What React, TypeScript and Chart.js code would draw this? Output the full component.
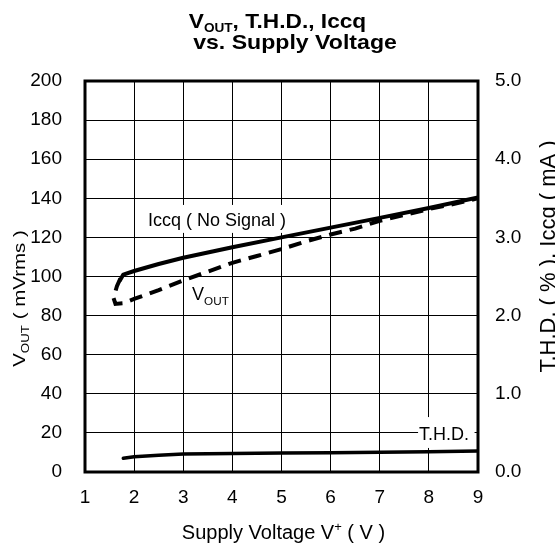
import React, { useEffect, useRef } from "react";
import { Chart, registerables } from "chart.js";

Chart.register(...registerables);

// ---------- data ----------
const xTickValues = [1, 2, 3, 4, 5, 6, 7, 8, 9];
const leftTickValues = [0, 20, 40, 60, 80, 100, 120, 140, 160, 180, 200];
const rightTickLabels = ["0.0", "1.0", "2.0", "3.0", "4.0", "5.0"];

// V_OUT (mVrms), left axis
const voutX = [1.72, 1.65, 1.58, 1.62, 1.78, 2.0, 2.5, 3.0, 3.5, 4.0, 4.5, 5.0, 5.5, 6.0, 6.5, 7.0, 7.5, 8.0, 8.5, 9.0];
const voutY = [99, 95, 89, 86, 86.3, 88.5, 93, 98, 102.5, 107, 110.5, 114, 118, 121.5, 124.5, 128.5, 131.5, 134.5, 137, 140];

// Iccq (mA, no signal), right axis
const iccqX = [1.71, 1.78, 2.0, 2.5, 3.0, 4.0, 5.0, 6.0, 7.0, 8.0, 9.0];
const iccqMA = [2.45, 2.525, 2.57, 2.66, 2.74, 2.875, 3.0, 3.125, 3.25, 3.375, 3.51];

// T.H.D. (%), right axis
const thdX = [1.78, 2.0, 2.5, 3.0, 4.0, 5.0, 6.0, 7.0, 8.0, 9.0];
const thdPct = [0.175, 0.196, 0.215, 0.23, 0.237, 0.242, 0.247, 0.252, 0.258, 0.268];

const FONT = "'Liberation Sans', Arial, Helvetica, sans-serif";

type Run = { t: string; sub?: boolean; sup?: boolean };

function runFont(size: number, weight: string, r: Run, subScale: number) {
  const s = r.sub || r.sup ? size * subScale : size;
  return `${weight} ${s}px ${FONT}`;
}

function drawRuns(
  ctx: CanvasRenderingContext2D,
  runs: Run[],
  x: number,
  y: number,
  size: number,
  weight: string,
  align: "left" | "center",
  subScale = 0.65,
  hScale = 1,
  subDrop = 0.26
) {
  ctx.save();
  ctx.translate(x, y);
  ctx.scale(hScale, 1);
  ctx.textAlign = "left";
  ctx.textBaseline = "alphabetic";
  let total = 0;
  for (const r of runs) {
    ctx.font = runFont(size, weight, r, subScale);
    total += ctx.measureText(r.t).width;
  }
  let cx = align === "center" ? -total / 2 : 0;
  for (const r of runs) {
    ctx.font = runFont(size, weight, r, subScale);
    const dy = r.sub ? size * subDrop : r.sup ? -size * 0.38 : 0;
    ctx.fillText(r.t, cx, dy);
    cx += ctx.measureText(r.t).width;
  }
  ctx.restore();
}

const annotPlugin = {
  id: "annot",
  beforeDatasetsDraw(chart: any) {
    const ctx: CanvasRenderingContext2D = chart.ctx;
    const xs = chart.scales.x;
    const ys = chart.scales.y;
    ctx.save();
    ctx.fillStyle = "#fff";
    // label backgrounds (interrupt the grid)
    const box = (x0: number, x1: number, y0: number, y1: number) => {
      const px0 = xs.getPixelForValue(x0);
      const px1 = xs.getPixelForValue(x1);
      const py0 = ys.getPixelForValue(y0);
      const py1 = ys.getPixelForValue(y1);
      ctx.fillRect(px0, py0, px1 - px0, py1 - py0);
    };
    box(2.22, 5.18, 136.6, 122.3);
    box(7.78, 8.93, 28.1, 12.3);
    ctx.fillStyle = "#000";
    drawRuns(ctx, [{ t: "Iccq ( No Signal )" }], xs.getPixelForValue(2.28), ys.getPixelForValue(125.8), 18, "normal", "left");
    drawRuns(ctx, [{ t: "T.H.D." }], xs.getPixelForValue(7.8), ys.getPixelForValue(16.4), 18, "normal", "left");
    drawRuns(ctx, [{ t: "V" }, { t: "OUT", sub: true }], xs.getPixelForValue(3.18), ys.getPixelForValue(88), 18, "normal", "left");
    ctx.restore();
  },
  afterDatasetsDraw(chart: any) {
    const ctx: CanvasRenderingContext2D = chart.ctx;
    const a = chart.chartArea;
    ctx.save();
    ctx.strokeStyle = "#000";
    ctx.lineWidth = 3;
    ctx.strokeRect(a.left, a.top, a.right - a.left, a.bottom - a.top);
    ctx.fillStyle = "#000";
    // title
    drawRuns(ctx, [{ t: "V" }, { t: "OUT", sub: true }, { t: ", T.H.D., Iccq" }], 277.5, 28, 21, "bold", "center", 0.6, 1.08, 0.2);
    drawRuns(ctx, [{ t: "vs. Supply Voltage" }], 295, 48.5, 21, "bold", "center", 0.6, 1.1);
    // x title
    drawRuns(ctx, [{ t: "Supply Voltage V" }, { t: "+", sup: true }, { t: " ( V )" }], 283.5, 539, 20, "normal", "center");
    // left title
    ctx.save();
    ctx.translate(25, 298.5);
    ctx.rotate(-Math.PI / 2);
    ctx.scale(1, 0.82);
    drawRuns(ctx, [{ t: "V" }, { t: "OUT", sub: true }, { t: " ( mVrms )" }], 0, 0, 20.5, "normal", "center");
    ctx.restore();
    // right title
    ctx.save();
    ctx.translate(555, 256.5);
    ctx.rotate(-Math.PI / 2);
    drawRuns(ctx, [{ t: "T.H.D. ( % ), Iccq ( mA )" }], 0, 0, 22, "normal", "center");
    ctx.restore();
    ctx.restore();
  },
};

export default function App() {
  const ref = useRef<HTMLCanvasElement | null>(null);
  useEffect(() => {
    if (!ref.current) return;
    const pts = (xs: number[], ys: number[]) => xs.map((x, i) => ({ x, y: ys[i] }));
    const tickFont = { family: FONT, size: 19 };
    const chart = new Chart(ref.current, {
      type: "scatter",
      data: {
        datasets: [
          {
            label: "VOUT",
            data: pts(voutX, voutY),
            yAxisID: "y",
            showLine: true,
            borderColor: "#000",
            borderWidth: 4,
            borderDash: [13, 8],
            pointRadius: 0,
            tension: 0,
          },
          {
            label: "Iccq",
            data: pts(iccqX, iccqMA),
            yAxisID: "y2",
            showLine: true,
            borderColor: "#000",
            borderWidth: 4,
            pointRadius: 0,
            borderCapStyle: "round",
            borderJoinStyle: "round",
            tension: 0,
          },
          {
            label: "T.H.D.",
            data: pts(thdX, thdPct),
            yAxisID: "y2",
            showLine: true,
            borderColor: "#000",
            borderWidth: 3.5,
            pointRadius: 0,
            borderCapStyle: "round",
            tension: 0,
          },
        ],
      },
      options: {
        animation: false,
        responsive: false,
        devicePixelRatio: 1,
        layout: { padding: { top: 81, left: 0, right: 0, bottom: 0 } },
        plugins: {
          legend: { display: false },
          title: { display: false },
          tooltip: { enabled: false },
        },
        scales: {
          x: {
            type: "linear",
            position: "bottom",
            min: 1,
            max: 9,
            afterBuildTicks: (s: any) => {
              s.ticks = xTickValues.map((v) => ({ value: v }));
            },
            ticks: { color: "#000", font: tickFont, padding: 14, maxRotation: 0, autoSkip: false },
            grid: { color: "#000", lineWidth: 1, drawTicks: false },
            border: { display: false },
            afterFit: (s: any) => {
              s.height = 72;
            },
          },
          y: {
            type: "linear",
            position: "left",
            min: 0,
            max: 200,
            afterBuildTicks: (s: any) => {
              s.ticks = leftTickValues.map((v) => ({ value: v }));
            },
            ticks: { color: "#000", font: tickFont, padding: 23 },
            grid: { color: "#000", lineWidth: 1, drawTicks: false },
            border: { display: false },
            afterFit: (s: any) => {
              s.width = 85;
            },
          },
          y2: {
            type: "linear",
            position: "right",
            min: 0,
            max: 5,
            afterBuildTicks: (s: any) => {
              s.ticks = rightTickLabels.map((_, i) => ({ value: i }));
            },
            ticks: {
              color: "#000",
              font: tickFont,
              padding: 17,
              callback: (_v: any, i: number) => rightTickLabels[i],
            },
            grid: { display: false, drawTicks: false },
            border: { display: false },
            afterFit: (s: any) => {
              s.width = 77;
            },
          },
        },
      } as any,
      plugins: [annotPlugin],
    });
    return () => chart.destroy();
  }, []);
  return (
    <div style={{ position: "fixed", left: 0, top: 0, width: 555, height: 544, background: "#fff" }}>
      <canvas ref={ref} width={555} height={544} style={{ display: "block" }} />
    </div>
  );
}
